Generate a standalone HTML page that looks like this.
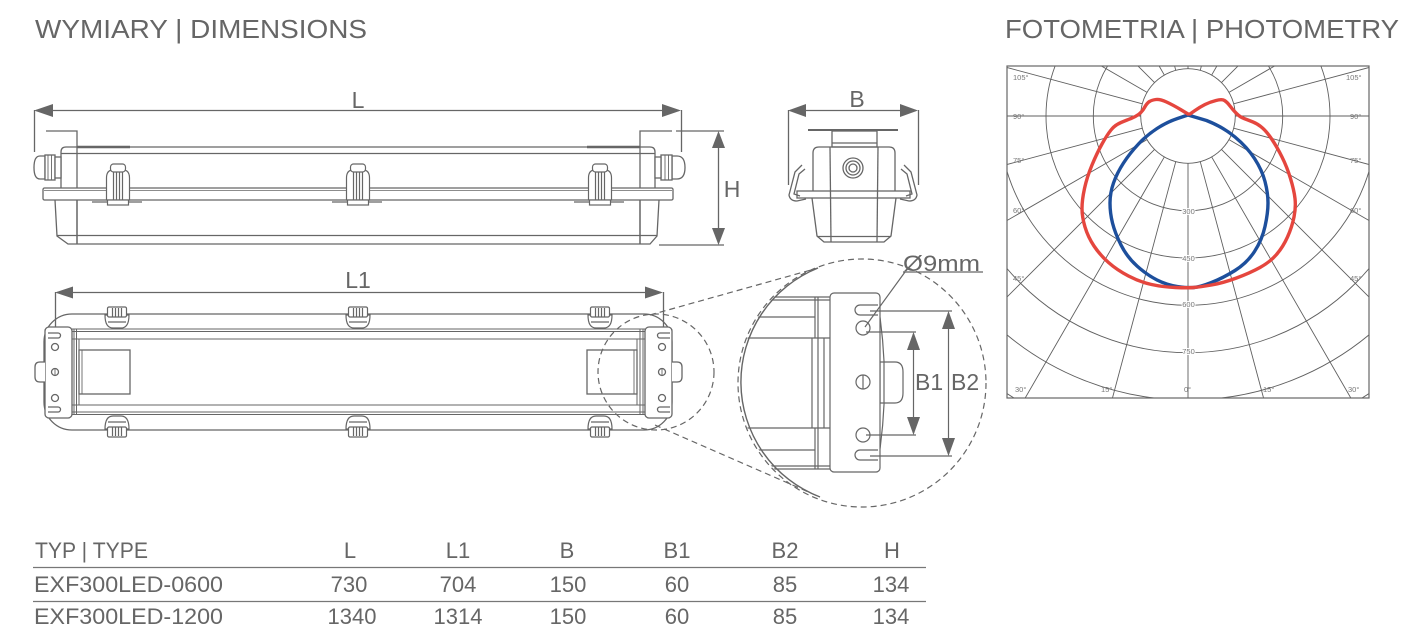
<!DOCTYPE html>
<html><head><meta charset="utf-8"><style>html,body{margin:0;padding:0;background:#fff}svg{display:block}</style></head>
<body>
<svg width="1404" height="644" viewBox="0 0 1404 644" xmlns="http://www.w3.org/2000/svg" font-family="'Liberation Sans', sans-serif">
<rect width="1404" height="644" fill="#fff"/>
<defs>
<clipPath id="pc"><rect x="1007" y="66" width="362" height="332"/></clipPath>
<clipPath id="dc"><circle cx="862" cy="383" r="123"/></clipPath>
<g id="clipS" stroke="#666" stroke-width="1.2" fill="#fff">
<line x1="-26" y1="202" x2="24" y2="202"/>
<path d="M-11.5,200 V178 Q-11.5,170 -5,170 H5 Q11.5,170 11.5,178 V200 Z"/>
<rect x="-7.5" y="164" width="15" height="8" rx="3"/>
<path d="M-4.5,172 V200 M-1.5,172 V200 M1.5,172 V200 M4.5,172 V200" fill="none"/>
<rect x="-10.5" y="200" width="21" height="5"/>
</g>
<g id="clipT" stroke="#666" stroke-width="1.2" fill="#fff">
<path d="M-12,315 Q-12,328 -4,328 H4 Q12,328 12,315 Z"/>
<line x1="-9" y1="322" x2="9" y2="322"/>
<rect x="-9.5" y="307" width="19" height="10" rx="1.5"/>
<path d="M-4.5,308 V317 M-1.5,308 V317 M1.5,308 V317 M4.5,308 V317" fill="none"/>
</g>
</defs>

<!-- Headings -->
<text x="35" y="38" font-size="26" fill="#666" textLength="332" lengthAdjust="spacingAndGlyphs">WYMIARY | DIMENSIONS</text>
<text x="1005" y="38" font-size="26" fill="#666" textLength="394" lengthAdjust="spacingAndGlyphs">FOTOMETRIA | PHOTOMETRY</text>

<!-- ================= SIDE VIEW ================= -->
<g stroke="#666" stroke-width="1.3" fill="none">
<line x1="36" y1="110.5" x2="679" y2="110.5"/>
<line x1="34.5" y1="110" x2="34.5" y2="152"/>
<line x1="681.5" y1="110" x2="681.5" y2="152"/>
<path d="M46,131 H77 V244"/>
<path d="M672,131 H640 V244"/>
<line x1="77" y1="147" x2="130" y2="147" stroke-width="2.4"/>
<line x1="587" y1="147" x2="640" y2="147" stroke-width="2.4"/>
<path d="M61,188 V152 Q61,147 66,147 H650 Q655,147 655,152 V188"/>
<line x1="61" y1="153.5" x2="655" y2="153.5"/>
<rect x="43" y="188" width="630" height="12" rx="1.5" fill="#fff"/>
<line x1="44" y1="190.5" x2="672" y2="190.5" stroke-width="0.8"/>
<path d="M55,200 L57,236 L68,244 H650 L657,236 L659,200"/>
<line x1="57" y1="235.5" x2="657" y2="235.5"/>
<line x1="77" y1="200" x2="77" y2="244"/>
<line x1="640" y1="200" x2="640" y2="244"/>
<!-- H dim -->
<line x1="676" y1="131" x2="724" y2="131"/>
<line x1="659" y1="245" x2="724" y2="245"/>
<line x1="718.5" y1="133" x2="718.5" y2="243"/>
<!-- glands -->
<path d="M45,156 H40 Q34,156 34,167.5 Q34,179 40,179 H45 Z" fill="#fff"/>
<rect x="45" y="155" width="10" height="25" fill="#fff"/>
<path d="M48,155 V180 M51.5,155 V180" stroke-width="0.9"/>
<rect x="55" y="157" width="6" height="21" fill="#fff"/>
<path d="M672,156 H677 Q685,156 685,167.5 Q685,179 677,179 H672 Z" fill="#fff"/>
<rect x="661" y="155" width="11" height="25" fill="#fff"/>
<path d="M665,155 V180 M668.5,155 V180" stroke-width="0.9"/>
<rect x="655" y="157" width="6" height="21" fill="#fff"/>
</g>
<g fill="#666">
<polygon points="34,110.5 53,104 53,117"/>
<polygon points="681,110.5 662,104 662,117"/>
<polygon points="718.5,131 712,148 725,148"/>
<polygon points="718.5,245 712,228 725,228"/>
</g>
<use href="#clipS" transform="translate(118,0)"/>
<use href="#clipS" transform="translate(358,0)"/>
<use href="#clipS" transform="translate(600,0)"/>
<text x="358" y="108" font-size="23" fill="#666" text-anchor="middle">L</text>
<text x="732" y="197" font-size="23" fill="#666" text-anchor="middle">H</text>

<!-- ================= END VIEW ================= -->
<g stroke="#666" stroke-width="1.3" fill="none">
<line x1="790" y1="110.5" x2="916" y2="110.5"/>
<line x1="788.5" y1="110" x2="788.5" y2="185"/>
<line x1="918.5" y1="110" x2="918.5" y2="185"/>
<line x1="808" y1="130" x2="898" y2="130" stroke-width="2"/>
<rect x="832" y="131" width="45" height="16"/>
<line x1="832" y1="143" x2="877" y2="143"/>
<path d="M813,192 V153 Q813,147 819,147 H889 Q895,147 895,153 V192"/>
<circle cx="853" cy="168" r="10"/>
<circle cx="853" cy="168" r="7"/>
<circle cx="853" cy="168" r="4"/>
<rect x="797" y="191" width="113" height="7" fill="#fff"/>
<path d="M812,198 L817,236 L824,242 H884 L891,236 L896,198"/>
<line x1="817" y1="236.5" x2="891" y2="236.5"/>
<line x1="830" y1="147" x2="831" y2="242"/>
<line x1="878" y1="147" x2="877" y2="242"/>
<path d="M802,165 L795,172 L789,195 Q790,201 797,201 L806,199"/>
<path d="M805,169 L799,174 L794,194 L800,196"/>
<path d="M904,165 L911,172 L917,195 Q916,201 909,201 L900,199"/>
<path d="M901,169 L907,174 L912,194 L906,196"/>
</g>
<g fill="#666">
<polygon points="788,110.5 806,104 806,117"/>
<polygon points="918,110.5 900,104 900,117"/>
</g>
<text x="857" y="107" font-size="23" fill="#666" text-anchor="middle">B</text>

<!-- ================= TOP VIEW ================= -->
<g stroke="#666" stroke-width="1.3" fill="none">
<line x1="57" y1="292.5" x2="661" y2="292.5"/>
<line x1="55.5" y1="292" x2="55.5" y2="337"/>
<line x1="663.5" y1="292" x2="663.5" y2="335"/>
<rect x="44" y="314" width="628" height="116" rx="28"/>
<path d="M72,329 H645 M72,331.5 H645 M72,339 H645 M72,405 H645 M72,412 H645 M72,414.5 H645" stroke-width="1"/>
<path d="M74,329 V415 M76.5,329 V415 M79,339 V405 M637,339 V405 M640,329 V415 M643,329 V415" stroke-width="1"/>
<rect x="79" y="350" width="51" height="44" fill="#fff"/>
<line x1="82" y1="350" x2="82" y2="394" stroke-width="0.9"/>
<rect x="587" y="350" width="50" height="44" fill="#fff"/>
<line x1="634" y1="350" x2="634" y2="394" stroke-width="0.9"/>
<rect x="45" y="327" width="27" height="91" rx="4" fill="#fff"/>
<rect x="645" y="327" width="27" height="91" rx="4" fill="#fff"/>
<circle cx="55" cy="347" r="3.5"/><circle cx="55" cy="372" r="3.5"/><circle cx="55" cy="398" r="3.5"/>
<line x1="55" y1="369" x2="55" y2="375" stroke-width="0.9"/>
<circle cx="662" cy="347" r="3.5"/><circle cx="662" cy="372" r="3.5"/><circle cx="662" cy="398" r="3.5"/>
<line x1="662" y1="369" x2="662" y2="375" stroke-width="0.9"/>
<path d="M48,333 H58 A2.5,2.5 0 0 1 58,338 H48"/>
<path d="M48,407 H58 A2.5,2.5 0 0 1 58,412 H48"/>
<path d="M670,333 H660 A2.5,2.5 0 0 0 660,338 H670"/>
<path d="M670,407 H660 A2.5,2.5 0 0 0 660,412 H670"/>
<path d="M45,362 H40 Q35,362 35,367 V377 Q35,382 40,382 H45" fill="#fff"/>
<path d="M672,362 H677 Q682,362 682,367 V377 Q682,382 677,382 H672" fill="#fff"/>
</g>
<g fill="#666">
<polygon points="55,292.5 73,286.5 73,298.5"/>
<polygon points="663,292.5 645,286.5 645,298.5"/>
</g>
<use href="#clipT" transform="translate(117,0)"/>
<use href="#clipT" transform="translate(358,0)"/>
<use href="#clipT" transform="translate(600,0)"/>
<use href="#clipT" transform="translate(117,744) scale(1,-1)"/>
<use href="#clipT" transform="translate(358,744) scale(1,-1)"/>
<use href="#clipT" transform="translate(600,744) scale(1,-1)"/>
<text x="358" y="288" font-size="23" fill="#666" text-anchor="middle">L1</text>

<!-- dashed magnifier -->
<g stroke="#666" stroke-width="1.2" fill="none" stroke-dasharray="6 4">
<circle cx="656" cy="372" r="58"/>
<line x1="650" y1="315" x2="818" y2="268"/>
<line x1="655" y1="425" x2="820" y2="497"/>
<circle cx="862" cy="383" r="124"/>
</g>
<path d="M818,268 A123,123 0 0 0 820,497" stroke="#666" stroke-width="1.4" fill="#fff"/>

<!-- ================= DETAIL ================= -->
<g clip-path="url(#dc)" stroke="#666" stroke-width="1.2" fill="none">
<path d="M730,297 H830 M730,300 H830 M730,317 H815 M730,338 H830 M730,428 H830 M730,450 H815 M730,466 H830 M730,469 H830"/>
<path d="M815,297 V338 M818,297 V338 M815,428 V469 M818,428 V469 M812,338 V428 M818,338 V428 M824,338 V428"/>
</g>
<g stroke="#666" stroke-width="1.2" fill="none">
<path d="M877,298 Q892,383 877,468"/>
<path d="M880,362 H895 Q903,362 903,372 V393 Q903,403 895,403 H880 Z" fill="#fff"/>
<line x1="884" y1="362" x2="884" y2="403"/>
<rect x="830" y="293" width="50" height="179" rx="4" fill="#fff"/>
<path d="M878,305 H860 A5,5 0 0 0 860,315 H878"/>
<path d="M878,450 H860 A5,5 0 0 0 860,460 H878"/>
<circle cx="863" cy="328" r="7"/>
<circle cx="863" cy="382" r="7"/>
<line x1="863" y1="375" x2="863" y2="389"/>
<circle cx="863" cy="435" r="7"/>
<line x1="865" y1="327" x2="905" y2="272"/>
<line x1="903" y1="272" x2="983" y2="272"/>
<line x1="870" y1="311" x2="952" y2="311"/>
<line x1="870" y1="456" x2="952" y2="456"/>
<line x1="948.5" y1="313" x2="948.5" y2="454"/>
<line x1="866" y1="332" x2="916" y2="332"/>
<line x1="866" y1="435" x2="916" y2="435"/>
<line x1="913.5" y1="334" x2="913.5" y2="433"/>
</g>
<g fill="#666">
<polygon points="948.5,311 942,329 955,329"/>
<polygon points="948.5,456 942,438 955,438"/>
<polygon points="913.5,332 907,350 920,350"/>
<polygon points="913.5,435 907,417 920,417"/>
</g>
<text x="903" y="271" font-size="22" fill="#666" textLength="77" lengthAdjust="spacingAndGlyphs">Ø9mm</text>
<text x="915" y="390" font-size="23" fill="#666">B1</text>
<text x="951" y="390" font-size="23" fill="#666">B2</text>

<!-- ================= PHOTOMETRY ================= -->
<g clip-path="url(#pc)" stroke="#5f5f5f" stroke-width="0.9" fill="none">
<circle cx="1188" cy="116" r="94.7"/>
<circle cx="1188" cy="116" r="142"/>
<circle cx="1188" cy="116" r="189.3"/>
<circle cx="1188" cy="116" r="236.7"/>
<circle cx="1188" cy="116" r="284"/>
<circle cx="1188" cy="116" r="331.3"/>
<path d="M1188,163.3 L1188,616
M1175.76,161.69 L1058.6,599 M1164.35,156.96 L938,549 M1154.55,149.45 L834.4,469.6 M1147.04,139.65 L755,366 M1142.31,128.24 L705,245.4 M1140.7,116 L688,116 M1142.31,103.76 L705,-13.4 M1147.04,92.35 L755,-134 M1154.55,82.55 L834.4,-237.6 M1164.35,75.04 L938,-317 M1175.76,70.31 L1058.6,-367 M1188,68.7 L1188,-384
M1200.24,161.69 L1317.4,599 M1211.65,156.96 L1438,549 M1221.45,149.45 L1541.6,469.6 M1228.96,139.65 L1621,366 M1233.69,128.24 L1671,245.4 M1235.3,116 L1688,116 M1233.69,103.76 L1671,-13.4 M1228.96,92.35 L1621,-134 M1221.45,82.55 L1541.6,-237.6 M1211.65,75.04 L1438,-317 M1200.24,70.31 L1317.4,-367"/>
<circle cx="1188" cy="116" r="47.3" fill="#fff"/>
</g>
<rect x="1007" y="66" width="362" height="332" fill="none" stroke="#666" stroke-width="1.2"/>
<g font-size="7.5" fill="#777">
<text x="1013" y="80">105°</text>
<text x="1013" y="119">90°</text>
<text x="1013" y="163">75°</text>
<text x="1013" y="213">60°</text>
<text x="1013" y="281">45°</text>
<text x="1015" y="392">30°</text>
<text x="1101" y="392">15°</text>
<text x="1184" y="392">0°</text>
<text x="1346" y="80">105°</text>
<text x="1350" y="119">90°</text>
<text x="1350" y="163">75°</text>
<text x="1350" y="213">60°</text>
<text x="1350" y="281">45°</text>
<text x="1348" y="392">30°</text>
<text x="1263" y="392">15°</text>
<g text-anchor="middle" stroke="#fff" stroke-width="2" paint-order="stroke">
<text x="1188.5" y="214">300</text>
<text x="1188.5" y="261">450</text>
<text x="1188.5" y="307">600</text>
<text x="1188.5" y="354">750</text>
</g>
</g>
<path fill="none" stroke="#1d4f9c" stroke-width="3.4" stroke-linejoin="round" stroke-linecap="round"
d="M1188,115 L1177.5,118.5 Q1167,122 1157,128.5 Q1147,135 1138.5,144 Q1130,153 1123.5,163 Q1117,173 1113.5,183 Q1110,193 1110,203 Q1110,213 1112.5,223 Q1115,233 1121,245 Q1127,257 1137,266 Q1147,275 1157,280 Q1167,285 1177.5,286.5 Q1188,288 1194,287.5 Q1200,287 1211.5,282.5 Q1223,278 1235,270.5 Q1247,263 1254.5,251.5 Q1262,240 1265,226.5 Q1268,213 1268,203 Q1268,193 1265,181.5 Q1262,170 1254.5,158.5 Q1247,147 1235,137 Q1223,127 1206.5,120.5 L1188,115"/>
<path fill="none" stroke="#e5463e" stroke-width="3.4" stroke-linejoin="round" stroke-linecap="round"
d="M1188,114 L1180.5,109.5 Q1173,105 1166.5,102 Q1160,99 1156,99.5 Q1152,100 1149.5,101.5 Q1147,103 1144.5,107.5 Q1142,112 1138.5,114.5 Q1135,117 1131,118.5 Q1127,120 1121,122.5 Q1115,125 1111,130 Q1107,135 1102,144 Q1097,153 1092,165 Q1087,177 1084.5,188.5 Q1082,200 1082,208.5 Q1082,217 1085,227 Q1088,237 1094,246 Q1100,255 1108.5,262.5 Q1117,270 1128.5,276 Q1140,282 1151.5,284.5 Q1163,287 1175.5,287.5 Q1188,288 1194,287.5 Q1200,287 1211.5,285 Q1223,283 1236.5,278 Q1250,273 1260,267.5 Q1270,262 1276.5,254.5 Q1283,247 1287.5,237 Q1292,227 1294,217 Q1296,207 1295,198.5 Q1294,190 1290.5,178.5 Q1287,167 1282,157 Q1277,147 1272,139.5 Q1267,132 1262.5,128 Q1258,124 1253,122 Q1248,120 1244,118.5 Q1240,117 1236.5,113.5 Q1233,110 1230,106 Q1227,102 1224.5,100.5 Q1222,99 1216,100.5 Q1210,102 1205,104.5 Q1200,107 1195,110.5 L1190,114"/>

<!-- ================= TABLE ================= -->
<g font-size="22" fill="#666">
<text x="35" y="558" textLength="113" lengthAdjust="spacingAndGlyphs">TYP | TYPE</text>
<text x="34" y="592" textLength="189" lengthAdjust="spacingAndGlyphs">EXF300LED-0600</text>
<text x="34" y="624" textLength="189" lengthAdjust="spacingAndGlyphs">EXF300LED-1200</text>
<g text-anchor="middle">
<text x="350" y="558">L</text><text x="458" y="558">L1</text><text x="567" y="558">B</text><text x="677" y="558">B1</text><text x="785" y="558">B2</text><text x="892" y="558">H</text>
<text x="349" y="592">730</text><text x="458" y="592">704</text><text x="568" y="592">150</text><text x="677" y="592">60</text><text x="785" y="592">85</text><text x="891" y="592">134</text>
<text x="352" y="624">1340</text><text x="458" y="624">1314</text><text x="568" y="624">150</text><text x="677" y="624">60</text><text x="785" y="624">85</text><text x="891" y="624">134</text>
</g>
</g>
<line x1="33" y1="567.5" x2="926" y2="567.5" stroke="#777" stroke-width="1.3"/>
<line x1="33" y1="601.5" x2="926" y2="601.5" stroke="#777" stroke-width="1.3"/>
</svg>
</body></html>
